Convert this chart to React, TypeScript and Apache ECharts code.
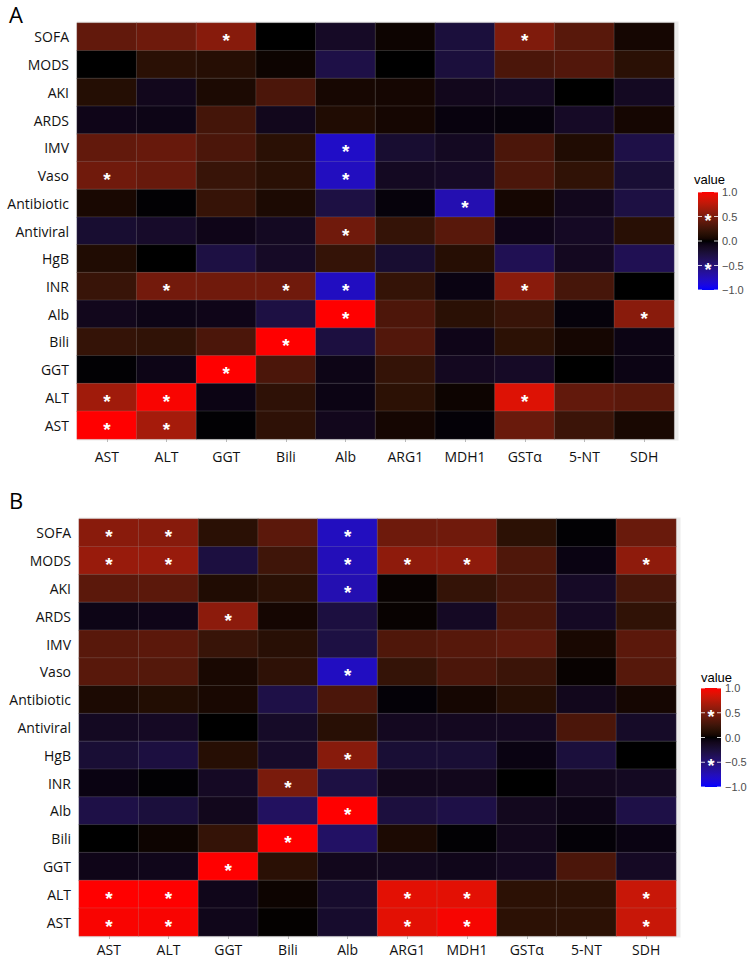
import React, { useEffect, useRef } from "react";
import * as echarts from "echarts";

const rows = ["SOFA", "MODS", "AKI", "ARDS", "IMV", "Vaso", "Antibiotic", "Antiviral", "HgB", "INR", "Alb", "Bili", "GGT", "ALT", "AST"];
const cols = ["AST", "ALT", "GGT", "Bili", "Alb", "ARG1", "MDH1", "GSTα", "5-NT", "SDH"];
const legendBreaks = [1.0, 0.5, 0.0, -0.5, -1.0];
const legendLabels = ["1.0", "0.5", "0.0", "\u22120.5", "\u22121.0"];

// Panel A correlations (rows top -> bottom, columns as in cols)
const valuesA: number[][] = [
  [0.40, 0.45, 0.55, 0.00, -0.15, 0.03, -0.25, 0.52, 0.36, 0.05],
  [0.00, 0.15, 0.13, 0.03, -0.30, 0.00, -0.25, 0.30, 0.33, 0.15],
  [0.12, -0.10, 0.08, 0.30, 0.06, 0.05, -0.10, -0.13, 0.00, -0.13],
  [-0.08, -0.07, 0.27, -0.10, 0.10, 0.05, -0.04, -0.03, -0.15, 0.05],
  [0.40, 0.42, 0.30, 0.15, -0.80, -0.20, -0.13, 0.30, 0.10, -0.30],
  [0.46, 0.42, 0.22, 0.15, -0.77, -0.13, -0.15, 0.30, 0.18, -0.22],
  [0.07, -0.01, 0.21, 0.08, -0.28, -0.03, -0.72, 0.05, -0.10, -0.28],
  [-0.20, -0.17, -0.08, -0.13, 0.46, 0.20, 0.36, -0.08, -0.14, 0.14],
  [0.10, 0.00, -0.28, -0.15, 0.20, -0.20, 0.13, -0.35, -0.12, -0.35],
  [0.22, 0.47, 0.46, 0.46, -0.78, 0.20, -0.05, 0.56, 0.28, 0.00],
  [-0.10, -0.07, -0.08, -0.28, 1.00, 0.31, 0.15, 0.22, -0.03, 0.56],
  [0.20, 0.18, 0.30, 1.00, -0.27, 0.33, -0.08, 0.16, 0.05, -0.06],
  [-0.01, -0.07, 1.00, 0.30, -0.07, 0.20, -0.12, -0.15, 0.00, -0.06],
  [0.65, 0.98, -0.06, 0.17, -0.06, 0.16, 0.03, 0.88, 0.40, 0.37],
  [1.00, 0.67, -0.01, 0.17, -0.10, 0.05, -0.02, 0.43, 0.23, 0.07],
];

// Panel B correlations
const valuesB: number[][] = [
  [0.56, 0.55, 0.15, 0.37, -0.77, 0.45, 0.46, 0.16, -0.01, 0.43],
  [0.62, 0.62, -0.27, 0.25, -0.75, 0.58, 0.58, 0.32, -0.05, 0.58],
  [0.37, 0.37, 0.10, 0.15, -0.72, 0.02, 0.20, 0.28, -0.15, 0.28],
  [-0.07, -0.08, 0.57, 0.05, -0.27, 0.02, -0.14, 0.30, -0.14, 0.18],
  [0.36, 0.37, 0.22, 0.14, -0.28, 0.32, 0.35, 0.38, 0.07, 0.37],
  [0.36, 0.34, 0.07, 0.17, -0.78, 0.20, 0.30, 0.23, 0.02, 0.35],
  [0.08, 0.11, 0.07, -0.30, 0.30, -0.02, 0.05, 0.13, -0.10, 0.05],
  [-0.13, -0.14, 0.00, -0.16, 0.14, -0.12, -0.12, -0.12, 0.30, -0.16],
  [-0.22, -0.27, 0.13, -0.17, 0.55, -0.22, -0.22, -0.05, -0.25, 0.00],
  [-0.05, -0.01, -0.14, 0.50, -0.28, -0.10, -0.10, 0.00, -0.11, -0.13],
  [-0.30, -0.25, -0.10, -0.40, 1.00, -0.26, -0.30, -0.11, -0.07, -0.30],
  [0.00, 0.03, 0.20, 1.00, -0.42, 0.08, -0.01, -0.10, -0.02, -0.05],
  [-0.08, -0.09, 1.00, 0.15, -0.10, -0.11, -0.09, -0.12, 0.30, -0.14],
  [1.00, 1.00, -0.09, 0.03, -0.18, 0.90, 0.90, 0.16, 0.16, 0.80],
  [0.98, 0.98, -0.09, 0.01, -0.18, 0.90, 0.97, 0.16, 0.16, 0.80],
];

// Significant cells [row, column]
const sigA: [string, string][] = [
  ["SOFA", "GGT"], ["SOFA", "GSTα"],
  ["IMV", "Alb"],
  ["Vaso", "AST"], ["Vaso", "Alb"],
  ["Antibiotic", "MDH1"],
  ["Antiviral", "Alb"],
  ["INR", "ALT"], ["INR", "Bili"], ["INR", "Alb"], ["INR", "GSTα"],
  ["Alb", "Alb"], ["Alb", "SDH"],
  ["Bili", "Bili"],
  ["GGT", "GGT"],
  ["ALT", "AST"], ["ALT", "ALT"], ["ALT", "GSTα"],
  ["AST", "AST"], ["AST", "ALT"],
];
const sigB: [string, string][] = [
  ["SOFA", "AST"], ["SOFA", "ALT"], ["SOFA", "Alb"],
  ["MODS", "AST"], ["MODS", "ALT"], ["MODS", "Alb"], ["MODS", "ARG1"], ["MODS", "MDH1"], ["MODS", "SDH"],
  ["AKI", "Alb"],
  ["ARDS", "GGT"],
  ["Vaso", "Alb"],
  ["HgB", "Alb"],
  ["INR", "Bili"],
  ["Alb", "Alb"],
  ["Bili", "Bili"],
  ["GGT", "GGT"],
  ["ALT", "AST"], ["ALT", "ALT"], ["ALT", "ARG1"], ["ALT", "MDH1"], ["ALT", "SDH"],
  ["AST", "AST"], ["AST", "ALT"], ["AST", "ARG1"], ["AST", "MDH1"], ["AST", "SDH"],
];

// ---- colour scale: blue -> black -> red interpolated in CIE Lab (like ggplot2 gradient2)
const RED_LAB = [53.24, 80.09, 67.2];
const BLUE_LAB = [32.3, 79.19, -107.86];
function labToHex(L: number, a: number, b: number): string {
  const fy = (L + 16) / 116;
  const fx = fy + a / 500;
  const fz = fy - b / 200;
  const finv = (t: number) => (t > 6 / 29 ? t * t * t : 3 * (6 / 29) * (6 / 29) * (t - 4 / 29));
  const X = 0.95047 * finv(fx);
  const Y = finv(fy);
  const Z = 1.08883 * finv(fz);
  const lin = [
    3.2406 * X - 1.5372 * Y - 0.4986 * Z,
    -0.9689 * X + 1.8758 * Y + 0.0415 * Z,
    0.0557 * X - 0.204 * Y + 1.057 * Z,
  ];
  const out = lin.map((c) => {
    c = Math.max(0, Math.min(1, c));
    const s = c <= 0.0031308 ? 12.92 * c : 1.055 * Math.pow(c, 1 / 2.4) - 0.055;
    const v = Math.round(Math.max(0, Math.min(1, s)) * 255);
    return v.toString(16).padStart(2, "0");
  });
  return "#" + out.join("");
}
function colorAt(v: number): string {
  const ref = v >= 0 ? RED_LAB : BLUE_LAB;
  const t = Math.abs(v);
  return labToHex(ref[0] * t, ref[1] * t, ref[2] * t);
}
const N_STOPS = 40;
const scaleColors: string[] = [];
for (let i = 0; i <= N_STOPS; i++) scaleColors.push(colorAt(-1 + (2 * i) / N_STOPS));

function buildData(values: number[][], sig: [string, string][]) {
  const out: any[] = [];
  values.forEach((row, r) =>
    row.forEach((v, c) => {
      const s = sig.some(([rn, cn]) => rn === rows[r] && cn === cols[c]) ? 1 : 0;
      out.push([c, r, v, s]);
    })
  );
  return out;
}

const AXIS_FONT = "'Open Sans', 'Noto Sans', sans-serif";
const LEG_FONT = "'Liberation Sans', Arial, sans-serif";

function legendGraphics(titleX: number, titleY: number, barX: number, barTop: number, barBottom: number) {
  const w = 20;
  const els: any[] = [];
  els.push({
    type: "text",
    x: titleX,
    y: titleY,
    style: { text: "value", font: `13px ${LEG_FONT}`, fill: "#000", textVerticalAlign: "middle" },
  });
  const gradStops = scaleColors
    .map((c, i) => ({ offset: 1 - i / N_STOPS, color: c }))
    .reverse();
  els.push({
    type: "rect",
    shape: { x: barX, y: barTop, width: w, height: barBottom - barTop },
    style: { fill: { type: "linear", x: 0, y: 0, x2: 0, y2: 1, colorStops: gradStops } },
  });
  legendBreaks.forEach((b, i) => {
    const y = barTop + ((1 - b) / 2) * (barBottom - barTop);
    els.push({ type: "line", shape: { x1: barX, y1: y, x2: barX + 4, y2: y }, style: { stroke: "#fff", lineWidth: 1, opacity: 0.8 } });
    els.push({ type: "line", shape: { x1: barX + w - 4, y1: y, x2: barX + w, y2: y }, style: { stroke: "#fff", lineWidth: 1, opacity: 0.8 } });
    els.push({
      type: "text",
      x: barX + w + 4,
      y,
      style: { text: legendLabels[i], font: `11px ${LEG_FONT}`, fill: "#4d4d4d", textVerticalAlign: "middle" },
    });
    if (Math.abs(b) === 0.5) {
      els.push({
        type: "text",
        x: barX + w / 2,
        y: y + 4,
        style: { text: "*", font: `bold 18px ${LEG_FONT}`, fill: "#fff", textAlign: "center", textVerticalAlign: "middle" },
      });
    }
  });
  return els;
}

const gridA = { left: 77, top: 23, width: 597, height: 416 };
const gridB = { left: 79, top: 519, width: 597, height: 417 };

export default function App() {
  const ref = useRef<HTMLDivElement>(null);
  useEffect(() => {
    document.body.style.margin = "0";
    if (!ref.current) return;
    const chart = echarts.init(ref.current, undefined, { renderer: "svg" });

    const xAxisCommon = (gridIndex: number, margin: number) => ({
      type: "category",
      gridIndex,
      data: cols,
      position: "bottom",
      axisLine: { show: false },
      axisTick: { show: true, length: 3, lineStyle: { color: "#bbb" }, alignWithLabel: true },
      axisLabel: { fontFamily: AXIS_FONT, fontSize: 14, color: "#111", margin },
      splitLine: { show: false },
    });
    const yAxisCommon = (gridIndex: number) => ({
      type: "category",
      gridIndex,
      data: rows,
      inverse: true,
      axisLine: { show: false },
      axisTick: { show: false },
      axisLabel: { fontFamily: AXIS_FONT, fontSize: 14, color: "#111", margin: 8 },
      splitLine: { show: false },
    });
    const seriesCommon = (idx: number, data: any[]) => ({
      type: "heatmap",
      xAxisIndex: idx,
      yAxisIndex: idx,
      data,
      itemStyle: { borderColor: "rgba(170,170,170,0.35)", borderWidth: 0.6 },
      label: {
        show: true,
        formatter: (p: any) => (p.data[3] ? "*" : ""),
        color: "#fff",
        fontSize: 19,
        fontWeight: "bold",
        fontFamily: LEG_FONT,
        offset: [0, 4],
      },
      emphasis: { disabled: true },
    });

    const bgRect = (g: any) => ({
      type: "rect",
      z: -10,
      shape: { x: g.left, y: g.top - 1.5, width: g.width + 4.5, height: g.height + 3 },
      style: { fill: "#ebebeb" },
    });

    chart.setOption({
      animation: false,
      backgroundColor: "#fff",
      grid: [
        { ...gridA, containLabel: false },
        { ...gridB, containLabel: false },
      ],
      xAxis: [xAxisCommon(0, 10), xAxisCommon(1, 6)],
      yAxis: [yAxisCommon(0), yAxisCommon(1)],
      visualMap: {
        type: "continuous",
        show: false,
        min: -1,
        max: 1,
        dimension: 2,
        seriesIndex: [0, 1],
        inRange: { color: scaleColors },
      },
      series: [seriesCommon(0, buildData(valuesA, sigA)), seriesCommon(1, buildData(valuesB, sigB))],
      graphic: [
        bgRect(gridA),
        bgRect(gridB),
        { type: "text", left: 9, top: 3, style: { text: "A", font: `22px ${AXIS_FONT}`, fill: "#000" } },
        { type: "text", left: 9, top: 489, style: { text: "B", font: `22px ${AXIS_FONT}`, fill: "#000" } },
        ...legendGraphics(694, 179, 698, 192, 290),
        ...legendGraphics(701, 677, 701, 688, 787),
      ],
    });
    return () => chart.dispose();
  }, []);
  return <div ref={ref} style={{ width: 749, height: 957 }} />;
}
